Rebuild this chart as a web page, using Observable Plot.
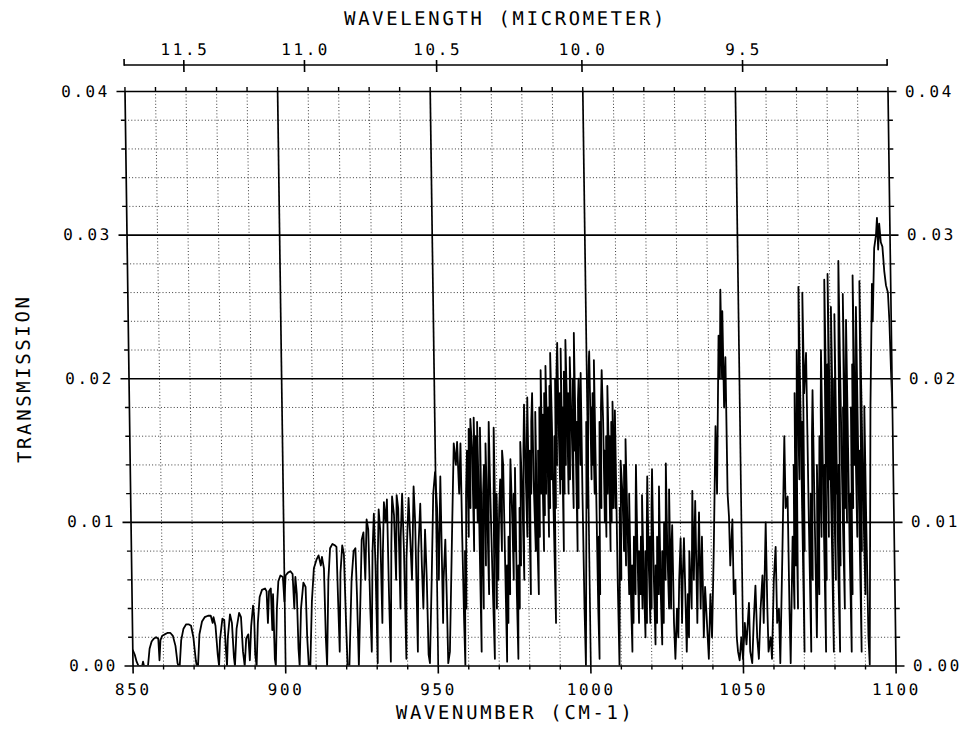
<!DOCTYPE html>
<html>
<head>
<meta charset="utf-8">
<script src="https://cdn.jsdelivr.net/npm/d3@7"></script>
<script src="https://cdn.jsdelivr.net/npm/@observablehq/plot@0.6"></script>
<style>
  html, body { margin: 0; padding: 0; background: #fff; overflow: hidden; }
  #chart svg { display: block; transform: skewX(0.8deg); transform-origin: 0 91px; }
  #chart svg text { letter-spacing: 2.6px; }
</style>
</head>
<body>
<div id="chart"></div>
<script>
// ---- axis ticks ----
const xMajorTicks = [850, 900, 950, 1000, 1050, 1100];
const xMinorTicks = [860, 870, 880, 890, 910, 920, 930, 940, 960, 970, 980, 990,
                     1010, 1020, 1030, 1040, 1060, 1070, 1080, 1090];
const xTopTicks = [850, 860, 870, 880, 890, 900, 910, 920, 930, 940, 950, 960, 970, 980, 990,
                   1000, 1010, 1020, 1030, 1040, 1050, 1060, 1070, 1080, 1090, 1100];
const yMajorTicks = [0, 0.01, 0.02, 0.03, 0.04];
const yMinorTicks = [0.002, 0.004, 0.006, 0.008, 0.012, 0.014, 0.016, 0.018,
                     0.022, 0.024, 0.026, 0.028, 0.032, 0.034, 0.036, 0.038];
const wavelengthTicks = [11.5, 11.0, 10.5, 10.0, 9.5];
const wavelengthLabels = ["11.5", "11.0", "10.5", "10.0", "9.5"];

// ---- spectrum (wavenumber cm-1, transmission) ----
const seg850 = [[850,0.0011],[850.6,0.0008],[851.2,0.0003],[851.8,0],[853,0],[853.3,0.0003],[853.6,0],
[854.9,0],[855.5,0.0012],[856.2,0.0017],[856.9,0.0019],[857.7,0.002],[858.4,0.0019],[858.7,0.0004],
[859.1,0.0018],[859.7,0.0021],[860.5,0.0022],[861.4,0.0023],[862.4,0.0023],[863.2,0.0021],[864,0.0014],
[864.6,0.0002],[864.9,0],[865.3,0],[865.9,0.0018],[866.7,0.0026],[867.6,0.0029],[868.4,0.0029],[869.2,0.0028],
[869.9,0.002],[870.6,0.0004],[870.9,0],[871.3,0],[871.9,0.0022],[872.8,0.0031],[873.7,0.0034],[874.8,0.0035],
[875.7,0.0035],[876.3,0.003],[876.6,0.0034],[877.2,0.0028],[877.8,0.0008],[878.2,0],[878.6,0.0018],
[879.5,0.0033],[880.1,0.0032],[880.5,0.0012],[880.8,0],[881.2,0.002],[882,0.0036],[882.6,0.003],[883.1,0.0006],
[883.4,0],[884.1,0.0026],[885,0.0037],[885.6,0.0034],[886.1,0.001],[886.6,0],[887.2,0.0019],[887.9,0.0022],
[888.3,0.0004],[888.9,0.0028],[889.6,0.0042],[889.9,0.0035],[890.1,0.0008],[890.5,0],[891.1,0.003],
[891.8,0.0048],[892.6,0.0053],[893.6,0.0054],[894.1,0.0052],[894.4,0.003],[894.9,0.0052],[895.5,0.0054],
[895.8,0.0025],[896.2,0.005],[896.5,0.0005],[896.8,0]];

const seg900 = [[897.4,0.004],[898,0.0059],[898.7,0.0063],[899.5,0.0062],[899.9,0.0045],[900.4,0.0063],
[901.2,0.0065],[902,0.0066],[902.7,0.0064],[903.1,0.004],[903.6,0.0062],[904,0.005],[904.3,0.0012],[904.6,0],
[905.3,0.004],[906.2,0.0058],[906.9,0.0055],[907.2,0.002],[907.6,0],[908.1,0],[908.9,0.0045],[909.7,0.0068],
[910.6,0.0074],[911.3,0.0077],[912,0.007],[912.4,0.0076],[913,0.0068],[913.3,0.002],[913.6,0],[914.4,0.006],
[915.1,0.0082],[915.9,0.0085],[916.7,0.0084],[917.2,0.0083],[917.5,0.0045],[917.8,0.001],[918.4,0.0065],
[919.1,0.0084],[919.6,0.0078],[920,0.003],[920.3,0],[920.9,0],[922,0.006],[922.8,0.008],[923.4,0.0082],
[923.7,0.005],[924,0],[924.7,0.004],[925.5,0.0088],[926.1,0.0093],[926.5,0.006],[927.2,0.0102],[927.7,0.0095],
[928,0.004],[928.3,0.001],[929,0.008],[929.6,0.0106],[929.9,0.007],[930.2,0.0002],[930.6,0.007],[931.2,0.0109],
[931.6,0.0095],[931.9,0.003],[932.4,0.008],[932.95,0.0114],[933.45,0.01],[933.95,0.0116],[934.2,0.005],
[934.5,0.0003],[935.2,0.0085],[935.65,0.0118],[936.2,0.0105],[936.6,0.006],[937.15,0.0119],[937.6,0.011],
[937.9,0.004],[938.3,0.009],[938.95,0.012],[939.3,0.008],[939.6,0.0005],[940.1,0.0075],[941.05,0.0117],
[941.4,0.009],[941.8,0.006],[942.75,0.0125],[943.1,0.01],[943.4,0.001],[944,0.008],[944.85,0.0113],
[945.1,0.007],[945.4,0.004],[946.3,0.0095],[946.65,0.006],[946.9,0.0008],[947.3,0.0002]];

const seg950 = [[948.25,0.006],[949.15,0.012],[949.85,0.0135],[950.35,0.011],[950.6,0.006],[951.55,0.0132],
[951.8,0.003],[952.15,0.006],[952.9,0.0088],[953.1,0.005],[953.3,0.0002],[953.9,0.001],[955.25,0.01],
[956.1,0.0155],[956.7,0.014],[957.2,0.0156],[957.65,0.012],[958.3,0.0155],[958.45,0.009],[958.7,0.003],
[958.9,0],[959.3,0.008],[959.5,0.004],[959.9,0.012],[960.4,0.015],[960.6,0.009],[961.05,0.0165],[961.3,0.011],
[961.65,0.0172],[962.1,0.015],[962.3,0.008],[962.75,0.0173],[963,0.011],[963.35,0.016],[963.6,0.01],
[963.85,0.017],[964.05,0.012],[964.3,0.001],[964.75,0.0166],[964.9,0.009],[965.2,0.004],[965.5,0.012],
[965.9,0.014],[966.1,0.007],[966.5,0.0155],[966.75,0.011],[967,0.005],[967.3,0.013],[967.65,0.017],
[967.85,0.012],[968.2,0.006],[968.6,0.0005],[968.9,0.011],[969.25,0.0166],[969.5,0.004],[969.9,0.012],
[970.1,0.006],[970.3,0.008],[970.7,0.011],[971.15,0.013],[971.4,0.008],[971.9,0.015],[972.2,0.014],
[972.4,0.007],[972.6,0.0003],[973,0.007],[973.2,0.003],[973.6,0.009],[973.9,0.005],[974.2,0.011],
[974.6,0.0144],[974.95,0.01],[975.15,0.006],[975.5,0.012],[975.7,0.008],[976.05,0.0138],[976.1,0.005],
[976.3,0.0005],[976.7,0.007],[977,0.004],[977.35,0.011],[977.6,0.007],[977.9,0.0156],[978.35,0.012],
[978.6,0.006],[978.9,0.015],[979.3,0.0182],[979.5,0.014],[979.8,0.009],[980.1,0.016],[980.4,0.0187],
[980.5,0.012],[980.7,0.005],[981,0.015],[981.3,0.012],[981.6,0.017],[982,0.019],[982.1,0.013],[982.5,0.008],
[982.95,0.0177],[983.05,0.009],[983.3,0.005],[983.7,0.015],[983.9,0.009],[984.3,0.018],[984.5,0.012],
[984.9,0.0206],[985,0.015],[985.2,0.008],[985.45,0.0175],[985.65,0.0105],[985.95,0.019],[986.15,0.012],
[986.5,0.0209],[986.75,0.016],[986.9,0.009],[987.2,0.018],[987.4,0.011],[987.7,0.0195],[987.9,0.013],
[988.1,0.0218],[988.35,0.017],[988.5,0.011],[988.8,0.003],[989.1,0.016],[989.3,0.011],[989.6,0.02],
[989.85,0.014],[990.1,0.0205],[990.45,0.0225],[990.55,0.017],[990.8,0.012],[991.1,0.019],[991.4,0.013],
[991.55,0.0221],[991.7,0.008],[992,0.018],[992.2,0.012],[992.5,0.0205],[992.75,0.014],[993.15,0.0227],
[993.4,0.018],[993.5,0.012],[993.8,0.019],[994.05,0.013],[994.5,0.0215],[994.85,0.016],[995.1,0.011],
[995.4,0.02],[995.6,0.015],[995.95,0.0232],[996.05,0.017],[996.2,0.008],[996.5,0.017],[996.75,0.011],
[997,0.0185],[997.3,0.02],[997.55,0.014],[998,0.0204],[998.05,0.012],[998.2,0.004],[998.4,0]];

const seg1000 = [[999.35,0.012],[999.6,0.017],[999.85,0.011],[1000.4,0.02],[1000.9,0.0219],[1001.1,0.013],
[1001.3,0.018],[1001.5,0.014],[1001.8,0.019],[1002.05,0.012],[1002.4,0.0213],[1002.5,0.015],[1002.7,0.004],
[1002.9,0.0005],[1003.2,0.009],[1003.4,0.005],[1003.65,0.012],[1003.95,0.017],[1004.2,0.011],[1004.5,0.018],
[1004.9,0.0206],[1005.15,0.017],[1005.25,0.01],[1005.5,0.015],[1005.7,0.009],[1006.05,0.016],[1006.3,0.012],
[1006.7,0.0195],[1006.9,0.014],[1007,0.008],[1007.3,0.016],[1007.5,0.01],[1007.8,0.017],[1008.05,0.011],
[1008.3,0.0184],[1008.5,0.015],[1008.75,0.011],[1009.05,0.0178],[1009.2,0.006],[1009.4,0],[1009.8,0.005],
[1010.2,0.011],[1010.4,0.006],[1010.7,0.0143],[1011.15,0.012],[1011.4,0.008],[1011.8,0.014],[1012,0.007],
[1012.4,0.0158],[1012.65,0.01],[1012.9,0.005],[1013.35,0.012],[1013.5,0.004],[1013.7,0.001],[1014,0.007],
[1014.2,0.003],[1014.7,0.009],[1015,0.005],[1015.4,0.011],[1015.7,0.014],[1015.8,0.008],[1016,0.003],
[1016.3,0.008],[1016.6,0.005],[1017,0.009],[1017.2,0.004],[1017.55,0.0119],[1017.75,0.006],[1018.05,0.002],
[1018.4,0.008],[1018.6,0.003],[1019,0.01],[1019.35,0.0132],[1019.45,0.007],[1019.7,0.003],[1020,0.009],
[1020.2,0.004],[1020.6,0.011],[1020.95,0.0137],[1021.05,0.006],[1021.3,0.0015],[1021.7,0.007],[1021.9,0.003],
[1022.3,0.009],[1022.6,0.005],[1023.15,0.0125],[1023.25,0.005],[1023.5,0.0015],[1023.9,0.008],[1024.1,0.003],
[1024.65,0.01],[1024.9,0.006],[1025.5,0.0141],[1025.6,0.008],[1025.9,0.004],[1026.45,0.0123],[1026.55,0.004],
[1026.9,0.008],[1027.3,0.0098],[1027.45,0.003],[1027.75,0.0005],[1028.5,0.004],[1028.8,0.002],[1029.35,0.006],
[1030,0.0089],[1030.1,0.003],[1030.5,0.006],[1031.1,0.0089],[1031.3,0.005],[1031.5,0.001],[1032.1,0.005],
[1032.3,0.002],[1032.8,0.008],[1033.3,0.004],[1034.05,0.0122],[1034.15,0.006],[1034.95,0.0115],[1035.1,0.003],
[1035.6,0.007],[1036.15,0.0107],[1036.25,0.004],[1037,0.009],[1037.15,0.002],[1037.8,0.0055],[1038.25,0.003],
[1038.7,0.0005],[1039.5,0.005],[1039.85,0.002],[1040.8,0.008],[1041.95,0.0167],[1042.15,0.012],[1043.35,0.023],
[1043.6,0.02],[1044.15,0.0262],[1044.3,0.02],[1044.7,0.0247],[1044.85,0.018],[1045.5,0.0215],[1045.6,0.012],
[1045.95,0.0104],[1046.15,0.007],[1047.05,0.0102],[1047.15,0.005],[1047.75,0.006],[1047.95,0.002],[1048.3,0.001]];

const seg1050 = [[1048.8,0.0004],[1049.45,0.002],[1049.9,0.0005],[1050.65,0.003],[1051.1,0.0015],[1052.1,0.0044],
[1052.3,0.001],[1052.9,0.0002],[1053.55,0.003],[1054.3,0.0056],[1054.65,0.002],[1055.1,0.0005],[1055.9,0.004],
[1056.65,0.0063],[1056.85,0.003],[1057.95,0.01],[1058.1,0.004],[1058.3,0.001],[1059.05,0.002],[1059.4,0.0005],
[1060.35,0.006],[1061.1,0.0083],[1061.25,0.003],[1061.9,0.004],[1062.1,0.0002],[1063.3,0.008],[1064.45,0.016],
[1064.55,0.011],[1065.25,0.0118],[1065.35,0.004],[1065.5,0.0002],[1066.7,0.009],[1067,0.004],[1067.4,0.014],
[1067.6,0.007],[1068,0.019],[1068.15,0.004],[1068.5,0.016],[1068.9,0.022],[1069.2,0.013],[1069.5,0.02],
[1069.75,0.0264],[1069.9,0.015],[1070.1,0.001],[1070.4,0.017],[1070.6,0.008],[1071,0.026],[1071.15,0.019],
[1071.95,0.0218],[1072.1,0.01],[1072.3,0.001],[1072.55,0.008],[1072.85,0.012],[1073.1,0.006],[1073.5,0.016],
[1073.9,0.0192],[1074,0.012],[1074.2,0.002],[1074.65,0.006],[1075,0.014],[1075.2,0.005],[1075.6,0.012],
[1075.95,0.016],[1076.2,0.009],[1076.5,0.018],[1076.85,0.022],[1076.95,0.012],[1077.15,0.001],[1077.5,0.014],
[1077.7,0.006],[1078,0.02],[1078.25,0.0269],[1078.35,0.018],[1078.6,0.009],[1078.9,0.021],[1079.1,0.013],
[1079.35,0.0273],[1079.5,0.012],[1079.7,0.001],[1080,0.016],[1080.3,0.025],[1080.45,0.013],[1080.7,0.006],
[1081,0.02],[1081.2,0.012],[1081.4,0.0245],[1081.55,0.006],[1081.75,0.001],[1082.1,0.014],[1082.3,0.007],
[1082.6,0.022],[1082.95,0.0282],[1083.05,0.02],[1083.25,0.01],[1083.5,0.004],[1083.8,0.018],[1084,0.011],
[1084.25,0.0259],[1084.35,0.018],[1084.6,0.01],[1084.9,0.02],[1085.2,0.0241],[1085.35,0.008],[1085.55,0.001],
[1085.9,0.012],[1086.1,0.005],[1086.4,0.018],[1086.7,0.011],[1087,0.021],[1087.25,0.014],[1087.55,0.0272],
[1087.65,0.019],[1087.9,0.009],[1088.2,0.02],[1088.5,0.025],[1088.6,0.012],[1088.8,0.001],[1089.1,0.015],
[1089.35,0.008],[1089.75,0.0268],[1089.85,0.02],[1090,0.012],[1090.3,0.005],[1090.55,0.014],[1090.8,0.0181],
[1090.9,0.01],[1091.1,0.002],[1091.4,0.0001],[1092.8,0.018],[1093.85,0.0266],[1093.95,0.024],[1094.75,0.0291],
[1095.4,0.03],[1095.8,0.0312],[1096.05,0.029],[1096.5,0.0308],[1096.95,0.0295],[1097.45,0.0292],[1097.95,0.0275],
[1098.45,0.0265],[1099.05,0.026],[1099.4,0.024],[1099.7,0.0206],[1100,0.018]];

const spectrum = [...seg850, ...seg900, ...seg950, ...seg1000, ...seg1050].map(([wn, tr]) => ({wn, tr}));

const xTitle = "WAVENUMBER (CM-1)";
const yTitle = "TRANSMISSION";
const topTitle = "WAVELENGTH (MICROMETER)";

// ---- top wavelength axis, placed with the x scale ----
function wavelengthAxis(index, scales, values, dims) {
  const x = scales.x;
  const yl = dims.marginTop - 26;
  const g = d3.create("svg:g").attr("stroke", "black").attr("fill", "none");
  g.append("line").attr("x1", x(850)).attr("x2", x(1100)).attr("y1", yl).attr("y2", yl).attr("stroke-width", 1.6);
  for (const v of [850, 1100]) {
    g.append("line").attr("x1", x(v)).attr("x2", x(v)).attr("y1", yl - 6).attr("y2", yl + 0.8).attr("stroke-width", 1.6);
  }
  wavelengthTicks.forEach((w, i) => {
    const px = x(1e4 / w);
    g.append("line").attr("x1", px).attr("x2", px).attr("y1", yl - 5).attr("y2", yl + 7).attr("stroke-width", 1.6);
    g.append("text").attr("x", px + 1.3).attr("y", yl - 10).attr("text-anchor", "middle")
      .attr("fill", "black").attr("stroke", "none").attr("font-size", 16).text(wavelengthLabels[i]);
  });
  return g.node();
}

const noText = () => "";
const dotted = {stroke: "#000", strokeOpacity: 0.85, strokeWidth: 0.9, strokeDasharray: "1,2.2"};
const solid = {stroke: "#000", strokeOpacity: 1, strokeWidth: 1.7};

const chart = Plot.plot({
  width: 961,
  height: 729,
  marginTop: 91,
  marginBottom: 63.5,
  marginLeft: 124.5,
  marginRight: 73.5,
  x: {domain: [850, 1100], axis: null},
  y: {domain: [0, 0.04], axis: null},
  style: {fontFamily: "DejaVu Sans Mono", fontSize: "16px", color: "black", background: "white"},
  marks: [
    Plot.gridX(xMinorTicks, dotted),
    Plot.gridY(yMinorTicks, dotted),
    Plot.gridX([900, 950, 1000, 1050], solid),
    Plot.gridY([0.01, 0.02, 0.03], solid),
    Plot.line(spectrum, {x: "wn", y: "tr", stroke: "#000", strokeWidth: 1.8, clip: true}),
    Plot.frame({stroke: "#000", strokeWidth: 1.7}),
    // bottom axis
    Plot.axisX(xMajorTicks, {anchor: "bottom", tickSize: 8, tickPadding: 10, tickFormat: "d", fontSize: 16, label: null, strokeWidth: 1.6}),
    Plot.axisX(xMinorTicks, {anchor: "bottom", tickSize: 4, tickFormat: noText, label: null, strokeWidth: 1.4}),
    // top frame ticks
    Plot.axisX(xTopTicks, {anchor: "top", tickSize: 5, tickFormat: noText, label: null, strokeWidth: 1.4}),
    // left axis
    Plot.axisY(yMajorTicks, {anchor: "left", tickSize: 8, tickPadding: 7, tickFormat: d3.format(".2f"), fontSize: 16, label: null, strokeWidth: 1.6}),
    Plot.axisY(yMinorTicks, {anchor: "left", tickSize: 4, tickFormat: noText, label: null, strokeWidth: 1.4}),
    // right axis
    Plot.axisY(yMajorTicks, {anchor: "right", tickSize: 8, tickPadding: 9, tickFormat: d3.format(".2f"), fontSize: 16, label: null, strokeWidth: 1.6}),
    Plot.axisY(yMinorTicks, {anchor: "right", tickSize: 4, tickFormat: noText, label: null, strokeWidth: 1.4}),
    // titles
    Plot.text([topTitle], {frameAnchor: "top", dy: -73, lineAnchor: "middle", textAnchor: "middle", fontSize: 19}),
    Plot.text([xTitle], {frameAnchor: "bottom", dy: 47, lineAnchor: "middle", textAnchor: "middle", fontSize: 19}),
    Plot.text([yTitle], {frameAnchor: "left", rotate: -90, dx: -105, lineAnchor: "middle", textAnchor: "middle", fontSize: 19}),
    wavelengthAxis
  ]
});

document.getElementById("chart").appendChild(chart);
</script>
</body>
</html>
